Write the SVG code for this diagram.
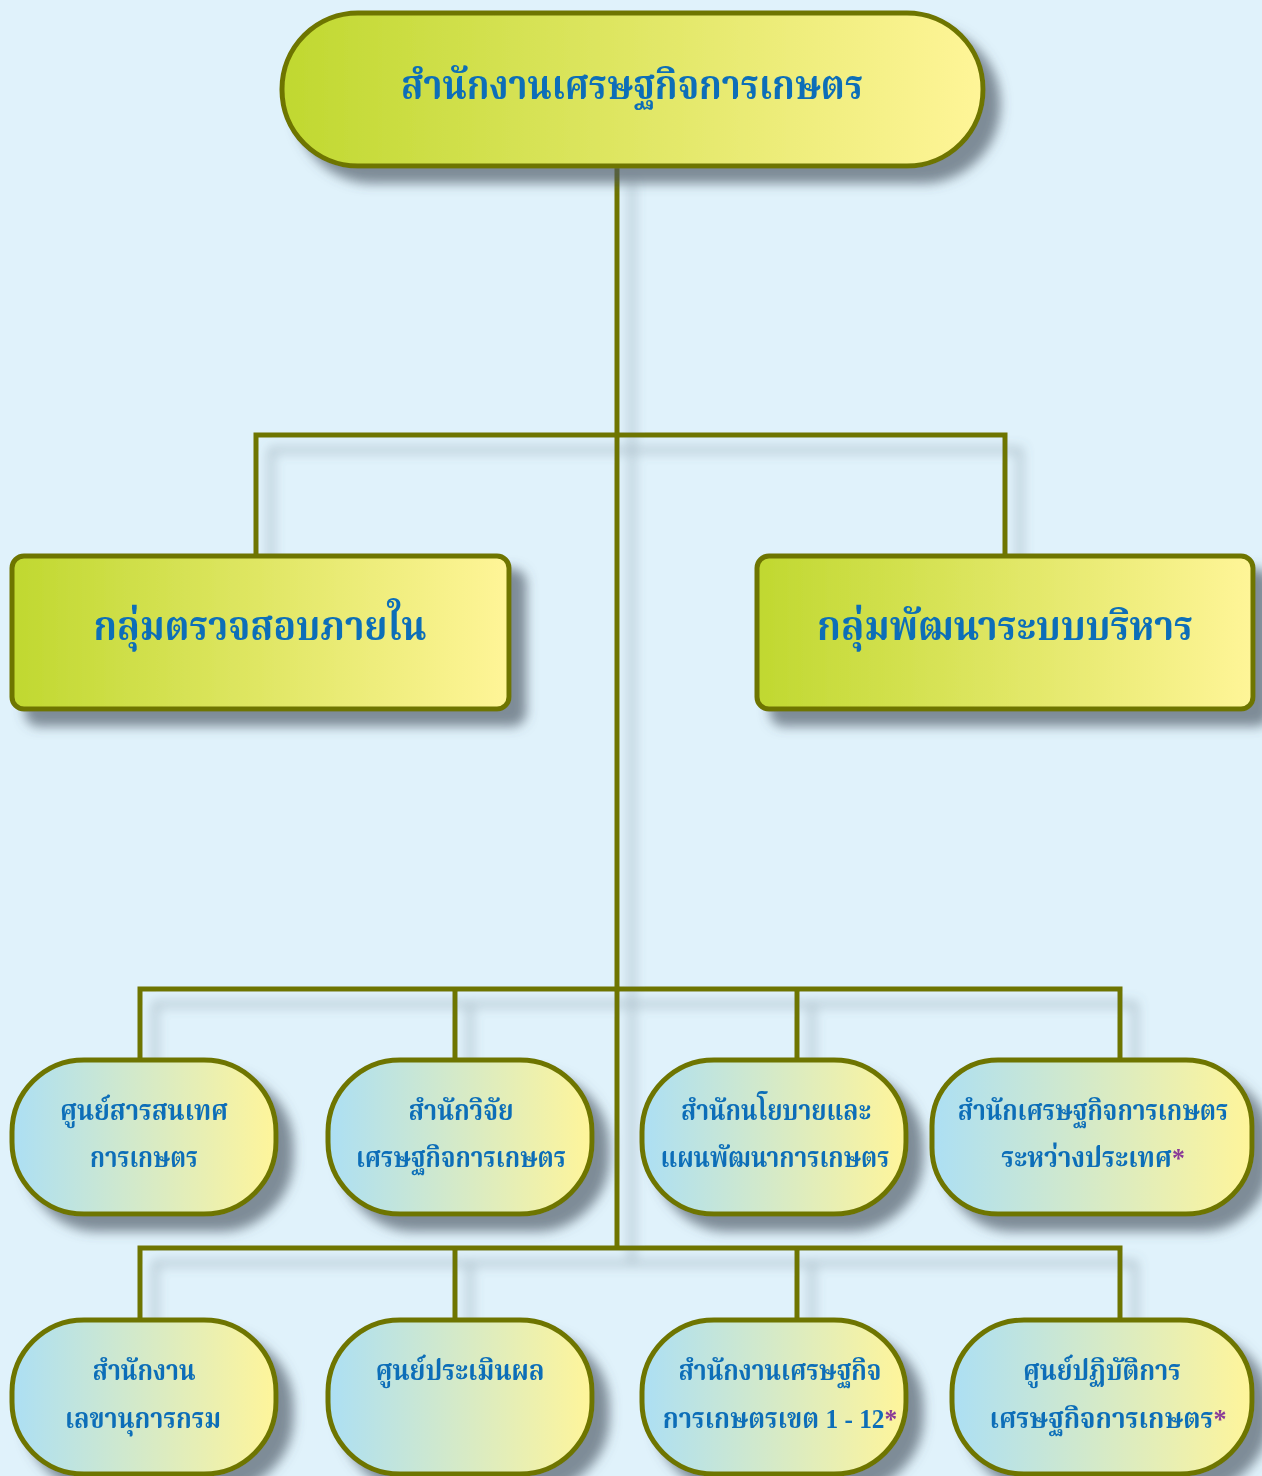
<svg xmlns="http://www.w3.org/2000/svg" width="1262" height="1476" viewBox="0 0 1262 1476">
<defs>
<linearGradient id="gTop" x1="0" y1="0" x2="1" y2="0">
<stop offset="0" stop-color="#c0d830"/>
<stop offset="1" stop-color="#fff598"/>
</linearGradient>
<linearGradient id="gLow" x1="0" y1="0" x2="1" y2="0">
<stop offset="0" stop-color="#acdff4"/>
<stop offset="1" stop-color="#fff59a"/>
</linearGradient>
<filter id="sh" x="-20%" y="-20%" width="140%" height="150%">
<feDropShadow dx="15" dy="15" stdDeviation="6" flood-color="#4a5560" flood-opacity="0.65"/>
</filter>
<filter id="lsh" x="-5%" y="-5%" width="110%" height="110%">
<feDropShadow dx="15" dy="15" stdDeviation="6" flood-color="#5a6a78" flood-opacity="0.4"/>
</filter>
</defs>
<style>
.box{stroke:#6e7502;stroke-width:5}
.top{fill:url(#gTop)}
.low{fill:url(#gLow)}
.t{font-family:"Liberation Serif","Noto Serif Thai","Noto Sans Thai",serif;font-weight:bold;fill:#0d6eb8;text-anchor:middle}
.big{font-size:40px}
.sm{font-size:28px}
.star{fill:#8a3a98}
.ln{stroke:#6e7502;stroke-width:5;fill:none}
</style>
<rect width="1262" height="1476" fill="#e0f2fb"/>
<g id="connectors" filter="url(#lsh)">
<path class="ln" d="M617 166 V1248"/>
<path class="ln" d="M256 555 V435 H1005 V555"/>
<path class="ln" d="M140 1060 V989 H1120 V1060 M455 989 V1060 M797 989 V1060"/>
<path class="ln" d="M140 1320 V1248 H1120 V1320 M455 1248 V1320 M797 1248 V1320"/>
</g>
<g id="n0" filter="url(#sh)">
<rect class="box top" x="282" y="13" width="701" height="153" rx="76" ry="76"/>
<text class="t big" x="632" y="99" textLength="462" lengthAdjust="spacingAndGlyphs">สำนักงานเศรษฐกิจการเกษตร</text>
</g>
<g id="n1" filter="url(#sh)">
<rect class="box top" x="12" y="556" width="497" height="153" rx="12" ry="12"/>
<text class="t big" x="260" y="640" textLength="333" lengthAdjust="spacingAndGlyphs">กลุ่มตรวจสอบภายใน</text>
</g>
<g id="n2" filter="url(#sh)">
<rect class="box top" x="757" y="556" width="496" height="153" rx="12" ry="12"/>
<text class="t big" x="1005" y="640" textLength="376" lengthAdjust="spacingAndGlyphs">กลุ่มพัฒนาระบบบริหาร</text>
</g>
<g id="n3" filter="url(#sh)">
<rect class="box low" x="12" y="1060" width="264" height="154" rx="72" ry="72"/>
<text class="t sm" x="144" y="1120" textLength="168" lengthAdjust="spacingAndGlyphs">ศูนย์สารสนเทศ</text>
<text class="t sm" x="144" y="1167" textLength="108" lengthAdjust="spacingAndGlyphs">การเกษตร</text>
</g>
<g id="n4" filter="url(#sh)">
<rect class="box low" x="328" y="1060" width="264" height="154" rx="72" ry="72"/>
<text class="t sm" x="461" y="1120" textLength="105" lengthAdjust="spacingAndGlyphs">สำนักวิจัย</text>
<text class="t sm" x="461" y="1167" textLength="210" lengthAdjust="spacingAndGlyphs">เศรษฐกิจการเกษตร</text>
</g>
<g id="n5" filter="url(#sh)">
<rect class="box low" x="642" y="1060" width="264" height="154" rx="72" ry="72"/>
<text class="t sm" x="776" y="1120" textLength="190" lengthAdjust="spacingAndGlyphs">สำนักนโยบายและ</text>
<text class="t sm" x="775" y="1167" textLength="229" lengthAdjust="spacingAndGlyphs">แผนพัฒนาการเกษตร</text>
</g>
<g id="n6" filter="url(#sh)">
<rect class="box low" x="932" y="1060" width="320" height="154" rx="66" ry="66"/>
<text class="t sm" x="0" y="1120" transform="translate(1093 0) scale(0.874 1)">สำนักเศรษฐกิจการเกษตร</text>
<text class="t sm" x="0" y="1167" transform="translate(1093 0) scale(0.92 1)">ระหว่างประเทศ<tspan class="star">*</tspan></text>
</g>
<g id="n7" filter="url(#sh)">
<rect class="box low" x="12" y="1320" width="264" height="154" rx="72" ry="72"/>
<text class="t sm" x="144" y="1380" textLength="103" lengthAdjust="spacingAndGlyphs">สำนักงาน</text>
<text class="t sm" x="143" y="1428" textLength="156" lengthAdjust="spacingAndGlyphs">เลขานุการกรม</text>
</g>
<g id="n8" filter="url(#sh)">
<rect class="box low" x="328" y="1320" width="264" height="154" rx="72" ry="72"/>
<text class="t sm" x="460" y="1380" textLength="169" lengthAdjust="spacingAndGlyphs">ศูนย์ประเมินผล</text>
</g>
<g id="n9" filter="url(#sh)">
<rect class="box low" x="642" y="1320" width="264" height="154" rx="72" ry="72"/>
<text class="t sm" x="780" y="1380" textLength="203" lengthAdjust="spacingAndGlyphs">สำนักงานเศรษฐกิจ</text>
<text class="t sm" x="0" y="1428" transform="translate(780 0) scale(0.906 1)">การเกษตรเขต 1 - 12<tspan class="star">*</tspan></text>
</g>
<g id="n10" filter="url(#sh)">
<rect class="box low" x="952" y="1320" width="300" height="154" rx="72" ry="72"/>
<text class="t sm" x="1102" y="1380" textLength="158" lengthAdjust="spacingAndGlyphs">ศูนย์ปฏิบัติการ</text>
<text class="t sm" x="0" y="1428" transform="translate(1108 0) scale(0.93 1)">เศรษฐกิจการเกษตร<tspan class="star">*</tspan></text>
</g>
</svg>
